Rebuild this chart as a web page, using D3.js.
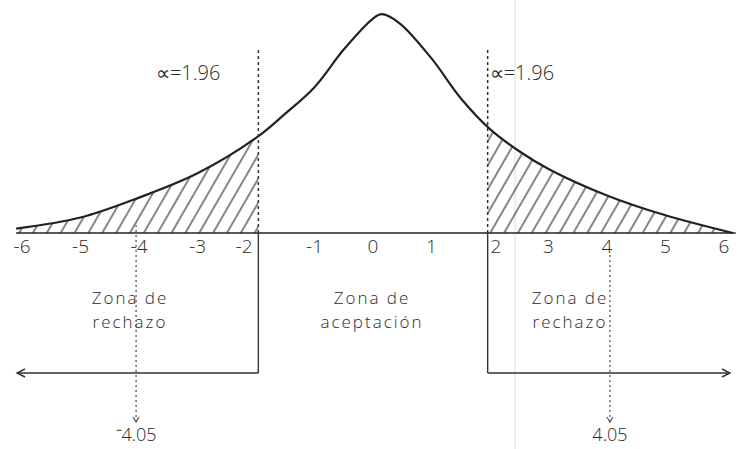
<!DOCTYPE html>
<html>
<head>
<meta charset="utf-8">
<script src="https://cdn.jsdelivr.net/npm/d3@7"></script>
<style>
  body { margin: 0; background: #fff; }
  text { font-family: "Open Sans", "DejaVu Sans", sans-serif; font-weight: 300; fill: #2a2a2a; }
</style>
</head>
<body>
<svg id="chart" width="740" height="449"></svg>
<script>
// curve (x in z units, height relative to peak)
const zValues = [-6.1, -5, -4, -3, -2, -1.5, -1, -0.5, 0, 0.15, 0.45, 1, 1.5, 2, 2.5, 3, 4, 5, 6.15];
const density = [0.02, 0.07, 0.16, 0.27, 0.43, 0.54, 0.66, 0.83, 0.97, 0.99, 0.95, 0.79, 0.61, 0.47, 0.37, 0.29, 0.17, 0.08, 0.0];
const tickValues = [-6, -5, -4, -3, -2, -1, 0, 1, 2, 3, 4, 5, 6];
const critical = 1.96;
const observed = [-4.05, 4.05];
const criticalLabel = '\u221D=1.96';
const zoneLeft = ['Zona de', 'rechazo'];
const zoneMid = ['Zona de', 'aceptación'];
const zoneRight = ['Zona de', 'rechazo'];

const svg = d3.select('#chart');
const x = d3.scaleLinear().domain([-6, 6]).range([22, 724]);
const y = d3.scaleLinear().domain([0, 1]).range([233, 12]);
const axisY = y(0);

const points = zValues.map((z, i) => ({z, d: density[i]}));

// hatch pattern
const defs = svg.append('defs');
defs.append('pattern')
    .attr('id', 'hatch')
    .attr('patternUnits', 'userSpaceOnUse')
    .attr('width', 12)
    .attr('height', 12)
    .attr('patternTransform', 'rotate(30)')
    .append('line')
    .attr('x1', 1).attr('y1', 0)
    .attr('x2', 1).attr('y2', 12)
    .attr('stroke', '#222')
    .attr('stroke-width', 1.1);

const clip = defs.append('clipPath').attr('id', 'tails');
clip.append('rect')
    .attr('x', 0).attr('y', 0)
    .attr('width', x(-critical)).attr('height', axisY);
clip.append('rect')
    .attr('x', x(critical)).attr('y', 0)
    .attr('width', 740 - x(critical)).attr('height', axisY);

// scan artifact line
svg.append('line')
    .attr('x1', 515).attr('x2', 515)
    .attr('y1', 0).attr('y2', 449)
    .attr('stroke', '#ddd')
    .attr('stroke-width', 1);

const curve = d3.curveCatmullRom.alpha(0.5);

const area = d3.area()
    .x((d) => x(d.z))
    .y0(axisY)
    .y1((d) => y(d.d))
    .curve(curve);

svg.append('path')
    .datum(points)
    .attr('d', area)
    .attr('fill', 'url(#hatch)')
    .attr('clip-path', 'url(#tails)');

const line = d3.line()
    .x((d) => x(d.z))
    .y((d) => y(d.d))
    .curve(curve);

svg.append('path')
    .datum(points)
    .attr('d', line)
    .attr('fill', 'none')
    .attr('stroke', '#222')
    .attr('stroke-width', 2.2);

// horizontal axis
svg.append('line')
    .attr('x1', x(-6.1)).attr('x2', x(6.2))
    .attr('y1', axisY).attr('y2', axisY)
    .attr('stroke', '#222')
    .attr('stroke-width', 1.6);

// labels at +-2 sit beside the critical lines, as in the drawing
const tickShift = (d) => (d === -2 ? -12 : d === 2 ? 6 : 0);
svg.append('g')
    .selectAll('text')
    .data(tickValues)
    .join('text')
    .attr('x', (d) => x(d) + tickShift(d))
    .attr('y', axisY + 20)
    .attr('text-anchor', 'middle')
    .attr('font-size', 19)
    .text((d) => d);

// critical value lines (dashed above axis, solid below)
[-critical, critical].forEach((c) => {
  svg.append('line')
      .attr('x1', x(c)).attr('x2', x(c))
      .attr('y1', 50).attr('y2', axisY)
      .attr('stroke', '#333')
      .attr('stroke-width', 1.5)
      .attr('stroke-dasharray', '3,3');
  svg.append('line')
      .attr('x1', x(c)).attr('x2', x(c))
      .attr('y1', axisY).attr('y2', 373)
      .attr('stroke', '#333')
      .attr('stroke-width', 1.4);
});

svg.append('text')
    .attr('x', x(-critical) - 38).attr('y', 80)
    .attr('text-anchor', 'end')
    .attr('font-size', 20)
    .text(criticalLabel);
svg.append('text')
    .attr('x', x(critical) + 2).attr('y', 80)
    .attr('font-size', 20)
    .text(criticalLabel);

// rejection arrows
const arrowHead = (xTip, yTip, dir) => {
  svg.append('path')
      .attr('d', `M${xTip - dir * 8},${yTip - 4} L${xTip},${yTip} L${xTip - dir * 8},${yTip + 4}`)
      .attr('fill', 'none')
      .attr('stroke', '#333')
      .attr('stroke-width', 1.4);
};
svg.append('line')
    .attr('x1', x(-critical)).attr('x2', 17)
    .attr('y1', 373).attr('y2', 373)
    .attr('stroke', '#333').attr('stroke-width', 1.4);
arrowHead(17, 373, -1);
svg.append('line')
    .attr('x1', x(critical)).attr('x2', 730)
    .attr('y1', 373).attr('y2', 373)
    .attr('stroke', '#333').attr('stroke-width', 1.4);
arrowHead(730, 373, 1);

// observed statistic markers
observed.forEach((v) => {
  svg.append('line')
      .attr('x1', x(v)).attr('x2', x(v))
      .attr('y1', v < 0 ? axisY - 8 : axisY + 22).attr('y2', 421)
      .attr('stroke', '#555')
      .attr('stroke-width', 1.3)
      .attr('stroke-dasharray', '2,3');
  svg.append('path')
      .attr('d', `M${x(v) - 3},${417} L${x(v)},${422} L${x(v) + 3},${417}`)
      .attr('fill', 'none')
      .attr('stroke', '#555')
      .attr('stroke-width', 1.2);
  svg.append('text')
      .attr('x', x(v)).attr('y', 441)
      .attr('text-anchor', 'middle')
      .attr('font-size', 18)
      .text(v < 0 ? '\u207B' + Math.abs(v).toFixed(2) : v.toFixed(2));
});

// zone labels
const zoneText = (lines, cx) => {
  lines.forEach((t, i) => {
    svg.append('text')
        .attr('x', cx)
        .attr('y', 304 + i * 24)
        .attr('text-anchor', 'middle')
        .attr('font-size', 17)
        .attr('letter-spacing', 2)
        .text(t);
  });
};
zoneText(zoneLeft, 130);
zoneText(zoneMid, 372);
zoneText(zoneRight, 570);
</script>
</body>
</html>
